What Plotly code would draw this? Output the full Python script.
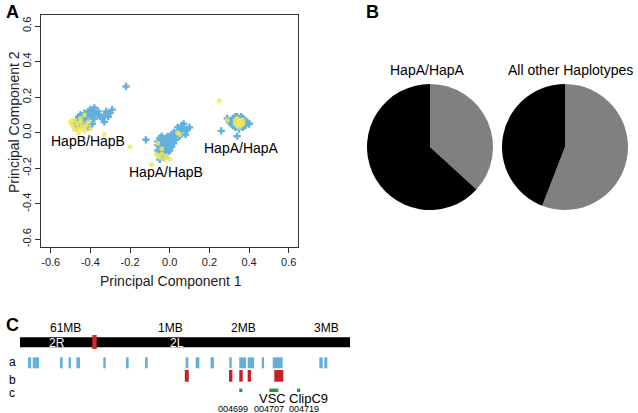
import plotly.graph_objects as go

# ── Panel A: PCA scatter ──────
BLUE_X = [-0.47, -0.46, -0.45, -0.44, -0.43, -0.42, -0.41, -0.40, -0.39, -0.38, -0.37, -0.36,
          -0.35, -0.34, -0.33, -0.32, -0.31, -0.30, -0.29, -0.33, -0.40, -0.42, -0.39, -0.44,
          -0.41, -0.45, -0.38, -0.36, -0.43, -0.41, -0.40, -0.38, -0.47, -0.48, -0.22,
          -0.06, -0.05, -0.04, -0.03, -0.02, -0.01, 0.00, 0.01, 0.02, 0.01, 0.00, -0.01,
          -0.02, -0.03, -0.04, -0.05, -0.06, -0.05, -0.04, -0.03, -0.02, -0.01, 0.00, -0.03,
          -0.04, -0.02, -0.01, 0.00, 0.02, -0.06, -0.03, -0.01, -0.05, -0.02, 0.01, -0.04,
          0.01, 0.02, 0.03, 0.04, 0.05, 0.06, 0.07, 0.08, 0.09, 0.07, 0.06, 0.05, 0.03, 0.08,
          0.10, 0.04, -0.12, -0.05,
          0.31, 0.32, 0.33, 0.34, 0.35, 0.36, 0.37, 0.38, 0.39, 0.40, 0.38, 0.37, 0.35, 0.33,
          0.32, 0.31, 0.34, 0.36, 0.30, 0.29, 0.26, 0.34, 0.40]
BLUE_Y = [0.07, 0.09, 0.10, 0.08, 0.11, 0.10, 0.12, 0.13, 0.12, 0.14, 0.11, 0.10,
          0.09, 0.08, 0.10, 0.12, 0.09, 0.11, 0.13, 0.06, 0.09, 0.07, 0.05, 0.05,
          0.03, 0.04, 0.08, 0.12, 0.09, 0.10, 0.11, 0.10, 0.03, 0.05, 0.26,
          -0.05, -0.03, -0.02, -0.04, -0.03, -0.02, -0.04, -0.05, -0.06, -0.08, -0.10, -0.11,
          -0.12, -0.10, -0.09, -0.08, -0.07, -0.11, -0.13, -0.14, -0.07, -0.06, -0.07, -0.06,
          -0.05, -0.09, -0.08, -0.09, -0.03, -0.10, -0.08, -0.04, -0.12, -0.05, -0.02, -0.07,
          -0.01, 0.00, -0.02, 0.01, 0.00, 0.02, 0.03, 0.01, 0.02, 0.05, 0.04, -0.02, -0.04, -0.01,
          0.03, 0.03, -0.04, -0.15,
          0.07, 0.08, 0.09, 0.09, 0.08, 0.09, 0.08, 0.07, 0.06, 0.05, 0.04, 0.03, 0.02, 0.03,
          0.04, 0.05, 0.06, 0.05, 0.06, 0.08, 0.01, -0.02, 0.05]

YELLOW_X = [-0.50, -0.49, -0.48, -0.47, -0.47, -0.46, -0.45, -0.44, -0.43, -0.42, -0.46,
            -0.48, -0.44, -0.41, -0.45, -0.49, -0.40, -0.33, -0.43,
            -0.20, -0.09, -0.06, -0.05, -0.04, -0.03, -0.02, -0.01, -0.07, 0.00, 0.04, -0.04,
            -0.06, 0.05,
            0.25, 0.33, 0.34, 0.35, 0.36, 0.35, 0.34, 0.36, 0.37, 0.33, 0.35, 0.37, 0.34, 0.36, 0.29]
YELLOW_Y = [0.06, 0.04, 0.07, 0.05, 0.02, 0.03, 0.06, 0.02, 0.01, 0.04, 0.00,
            0.02, 0.04, 0.06, 0.08, 0.07, 0.02, -0.01, 0.10,
            -0.08, -0.18, -0.13, -0.14, -0.12, -0.15, -0.13, -0.14, -0.12, -0.15, 0.00, -0.09,
            -0.06, -0.01,
            0.18, 0.05, 0.06, 0.05, 0.06, 0.07, 0.04, 0.04, 0.05, 0.07, 0.03, 0.07, 0.08, 0.07, 0.07]

PC_TICKS = [-0.6, -0.4, -0.2, 0.0, 0.2, 0.4, 0.6]
PC_TICKTEXT = ["-0.6", "-0.4", "-0.2", "0.0", "0.2", "0.4", "0.6"]
CLUSTER_LABELS = ["HapB/HapB", "HapA/HapB", "HapA/HapA"]
CLUSTER_X = [-0.413, -0.019, 0.363]
CLUSTER_Y = [-0.045, -0.219, -0.084]

# ── Panel B: pies ──────
PIE_TITLES = ["HapA/HapA", "All other Haplotypes"]
PIE_HAPAA = [36.8, 63.2]      # grey, black
PIE_OTHER = [55.9, 44.1]

# ── Panel C: chromosome map (Mb, 2R end shown left of centromere) ──────
ROW_A_START = [-0.82, -0.76, -0.41, -0.30, -0.20, 0.145, 0.436, 0.68, 1.20, 1.33, 1.52, 1.76,
               1.888, 1.996, 2.176, 2.317, 2.914, 2.978]
ROW_A_END = [-0.78, -0.68, -0.376, -0.269, -0.154, 0.176, 0.47, 0.714, 1.235, 1.376, 1.564,
             1.791, 1.974, 2.077, 2.205, 2.445, 2.958, 3.017]
ROW_B_START = [1.19, 1.756, 1.888, 1.996, 2.337]
ROW_B_END = [1.24, 1.80, 1.932, 2.038, 2.453]
ROW_C_START = [1.888, 2.273, 2.628]
ROW_C_END = [1.927, 2.388, 2.67]
CHROM = [-0.923, 3.308]
CENTROMERE = [0.004, 0.06]
MB_LABELS = ["61MB", "1MB", "2MB", "3MB"]
MB_POS = [-0.346, 1.0, 1.936, 3.01]
ARM_LABELS = ["2R", "2L"]
ARM_POS = [-0.45, 1.086]
GENE_NAMES = ["VSC", "ClipC9"]
GENE_NAME_POS = [2.32, 2.77]
GENE_IDS = ["004699", "004707", "004719"]
GENE_ID_POS = [1.81, 2.27, 2.72]

W, H = 638, 413
FONT = "Arial, Liberation Sans, sans-serif"
BLUE = "#62b0de"
YELLOW = "rgba(240,230,90,0.8)"


def px_x(p):
    return p / W


def px_y(p):
    return 1 - p / H


def label(text, x, y, xref="paper", yref="paper", size=14, color="black", **kw):
    return dict(text=text, x=x, y=y, xref=xref, yref=yref, showarrow=False,
                xanchor="center", yanchor="middle",
                font=dict(size=size, color=color), **kw)


fig = go.Figure()

fig.add_trace(go.Scatter(
    x=BLUE_X, y=BLUE_Y, mode="markers",
    marker=dict(symbol="cross", size=6, color=BLUE),
    xaxis="x", yaxis="y", showlegend=False,
))
fig.add_trace(go.Scatter(
    x=YELLOW_X, y=YELLOW_Y, mode="markers",
    marker=dict(symbol="circle", size=5, color=YELLOW),
    xaxis="x", yaxis="y", showlegend=False,
))

for vals, x0, x1 in [(PIE_HAPAA, 367, 493), (PIE_OTHER, 502, 628)]:
    fig.add_trace(go.Pie(
        values=vals, labels=["grey", "black"],
        marker=dict(colors=["#82807e", "#000000"], line=dict(width=0)),
        sort=False, direction="clockwise", rotation=0,
        textinfo="none", hoverinfo="skip", showlegend=False,
        domain=dict(x=[px_x(x0), px_x(x1)], y=[px_y(210), px_y(84)]),
    ))

# dummy trace so the panel-C axes exist
fig.add_trace(go.Scatter(x=[CHROM[0]], y=[400], mode="markers",
                         marker=dict(opacity=0), xaxis="x2", yaxis="y2",
                         showlegend=False, hoverinfo="skip"))

shapes = []
shapes.append(dict(type="rect", xref="x2", yref="y2", x0=CHROM[0], x1=CHROM[1],
                   y0=337.3, y1=347.3, fillcolor="black", line=dict(width=0)))
shapes.append(dict(type="rect", xref="x2", yref="y2", x0=CENTROMERE[0], x1=CENTROMERE[1],
                   y0=335, y1=349, fillcolor="#d8282a", line=dict(width=0)))
for starts, ends, y0, y1, col in [
    (ROW_A_START, ROW_A_END, 357.3, 368.3, BLUE),
    (ROW_B_START, ROW_B_END, 370.0, 381.7, "#bf2328"),
    (ROW_C_START, ROW_C_END, 388.6, 392.0, "#1c9a48"),
]:
    for s, e in zip(starts, ends):
        shapes.append(dict(type="rect", xref="x2", yref="y2", x0=s, x1=e,
                           y0=y0, y1=y1, fillcolor=col, line=dict(width=0)))

ann = []
for t, x, y in zip(CLUSTER_LABELS, CLUSTER_X, CLUSTER_Y):
    ann.append(label(t, x, y, "x", "y"))
ann.append(label("Principal Component 1", px_x(171), px_y(281), color="#222"))
ann.append(label("Principal Component 2", px_x(14), px_y(122), color="#222", textangle=-90))
for t, x in zip(PIE_TITLES, [428, 570]):
    ann.append(label(t, px_x(x), px_y(70)))
for t, x, y in [("A", 12, 12), ("B", 372, 12), ("C", 12, 325)]:
    ann.append(label("<b>%s</b>" % t, px_x(x), px_y(y), size=18))
for t, x in zip(MB_LABELS, MB_POS):
    ann.append(label(t, x, 328, "x2", "y2", size=12))
for t, x in zip(ARM_LABELS, ARM_POS):
    ann.append(label(t, x, 342.5, "x2", "y2", size=12, color="white"))
for t, y in zip(["a", "b", "c"], [362, 380, 393]):
    ann.append(label(t, px_x(12), px_y(y), size=12))
for t, x in zip(GENE_NAMES, GENE_NAME_POS):
    ann.append(label(t, x, 398, "x2", "y2", size=13))
for t, x in zip(GENE_IDS, GENE_ID_POS):
    ann.append(label(t, x, 408.5, "x2", "y2", size=9))

axis_common = dict(
    showgrid=False, zeroline=False, showline=True, mirror=True,
    linecolor="#333", linewidth=1, ticks="outside", ticklen=5, tickcolor="#333",
    tickvals=PC_TICKS, ticktext=PC_TICKTEXT, tickfont=dict(size=11, color="#222"),
)

fig.update_layout(
    width=W, height=H,
    margin=dict(l=0, r=0, t=0, b=0),
    paper_bgcolor="white", plot_bgcolor="white",
    font=dict(family=FONT),
    xaxis=dict(domain=[px_x(41), px_x(298)], range=[-0.649, 0.647], **axis_common),
    yaxis=dict(domain=[px_y(247), px_y(15)], range=[-0.643, 0.662], tickangle=-90,
               **axis_common),
    xaxis2=dict(domain=[0, 1], range=[-92 / 78, 546 / 78], visible=False),
    yaxis2=dict(domain=[0, px_y(320)], range=[413, 320], visible=False),
    shapes=shapes,
    annotations=ann,
)

fig.write_html("out.html", config={"displayModeBar": False},
               post_script="document.body.style.margin='0';")
